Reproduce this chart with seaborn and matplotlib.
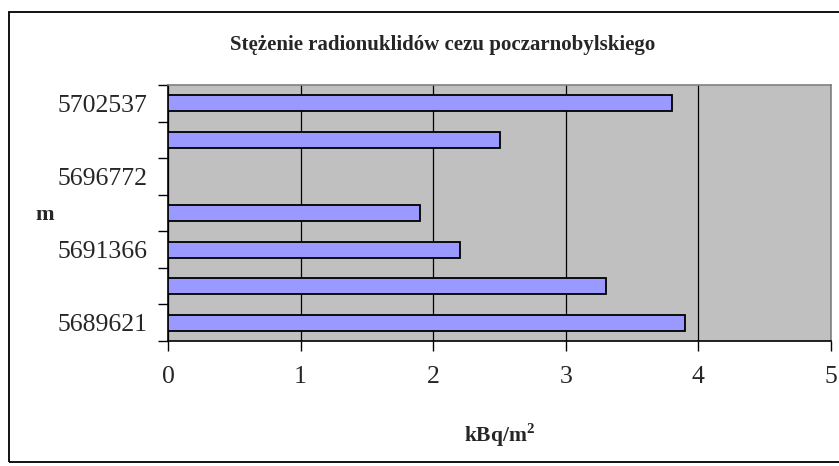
import numpy as np
import pandas as pd
import matplotlib
matplotlib.use("Agg")
import matplotlib.pyplot as plt
from matplotlib.patches import Rectangle
import seaborn as sns

# rows listed top to bottom, as they appear on the chart
row_labels = ["5702537", "", "5696772", "", "5691366", "", "5689621"]
values = [3.8, 2.5, np.nan, 1.9, 2.2, 3.3, 3.9]

df = pd.DataFrame({"row": [str(i) for i in range(len(values))], "kBq": values})

sns.set_style("white")
plt.rcParams["font.family"] = ["Liberation Serif", "DejaVu Serif"]
plt.rcParams["mathtext.fontset"] = "custom"
plt.rcParams["mathtext.rm"] = "Liberation Serif"
plt.rcParams["mathtext.bf"] = "Liberation Serif:bold"

W, H = 839, 466
fig = plt.figure(figsize=(W / 100, H / 100), dpi=100)
ax = fig.add_axes([168 / W, 1 - 341 / H, (831 - 168) / W, (341 - 85) / H])

sns.barplot(data=df, x="kBq", y="row", order=list(df["row"]), orient="h",
            color="#9999FF", saturation=1, width=0.44,
            edgecolor="black", linewidth=1.3, ax=ax, zorder=3)

ax.set_facecolor("#C0C0C0")
ax.set_xlim(0, 5)
ax.set_ylim(len(values) - 0.5, -0.5)
ax.set_xticks(range(6))
ax.grid(axis="x", color="black", linewidth=0.9, zorder=0)
ax.set_axisbelow(True)

# tick marks on category boundaries, labels at category centres
ax.set_yticks(np.arange(-0.5, len(values), 1.0))
ax.set_yticklabels([])
ax.set_yticks(range(len(values)), minor=True)
ax.set_yticklabels(row_labels, minor=True, fontsize=18.5)
ax.tick_params(axis="y", which="major", length=7, width=1, color="black", left=True)
ax.tick_params(axis="y", which="minor", length=0, pad=15)
ax.tick_params(axis="x", length=7, width=1, color="black", bottom=True, pad=11, labelsize=18.5)

for s in ["top", "right"]:
    ax.spines[s].set_color("#808080")
    ax.spines[s].set_linewidth(1.2)
for s in ["left", "bottom"]:
    ax.spines[s].set_color("black")
    ax.spines[s].set_linewidth(1.2)

ax.set_ylabel("")
ax.set_xlabel("kBq/m$^{\\mathbf{2}}$", fontsize=15.5, fontweight="bold", labelpad=24)
fig.text(35 / W, 1 - 215 / H, "m", fontsize=16, fontweight="bold", ha="left", va="center")
fig.text(443 / W, 1 - 45 / H, "Stężenie radionuklidów cezu poczarnobylskiego",
         fontsize=15, fontweight="bold", ha="center", va="center")

fig.patches.append(Rectangle((9 / W, 4 / H), (W + 5 - 9) / W, (454 - 4) / H,
                             transform=fig.transFigure, fill=False,
                             edgecolor="black", linewidth=1.3))

fig.savefig("out.png", dpi=100)
